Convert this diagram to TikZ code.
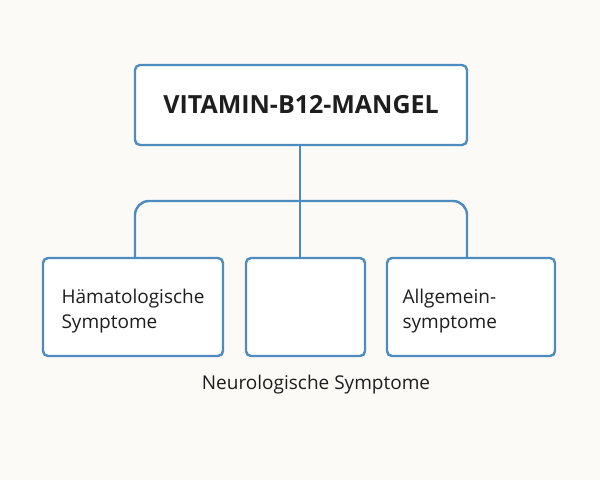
\documentclass[tikz,border=0pt]{standalone}
\usepackage{fontspec}
\setmainfont{Open Sans}
\usetikzlibrary{positioning}
\definecolor{boxblue}{RGB}{78, 140, 192}
\definecolor{paper}{RGB}{251, 250, 246}
\definecolor{ink}{RGB}{30, 30, 30}
\tikzset{
  box/.style={draw=boxblue, line width=2.4pt, rounded corners=5pt, fill=white, inner sep=0pt},
  label/.style={text=ink, font=\fontsize{19}{25}\selectfont, align=left},
  link/.style={draw=boxblue, line width=2.4pt, rounded corners=14pt}
}
\begin{document}
\begin{tikzpicture}[x=1pt, y=-1pt]
  \fill[paper] (0,0) rectangle (600,480);
  \useasboundingbox (0,0) rectangle (600,480);
  % main box
  \node[box, minimum width=332pt, minimum height=80pt] (main) at (301,105)
       {\fontsize{25}{30}\selectfont\bfseries\color{ink}VITAMIN-B12-MANGEL};
  % lower boxes
  \node[box, minimum width=180pt, minimum height=98pt] (haem) at (133,307) {};
  \node[box, minimum width=119pt, minimum height=98pt] (neuro) at (305.5,307) {};
  \node[box, minimum width=168pt, minimum height=98pt] (allg) at (471,307) {};
  \node[label, anchor=west] (haemtxt) at (58,311) {Hämatologische\\Symptome};
  \node[label, anchor=west] (allgtxt) at (399,311) {Allgemein-\\symptome};
  \node[label, anchor=center] (neurotxt) at (316,385) {Neurologische Symptome};
  % connectors
  \coordinate (split) at (main.south -| 300,0);
  \draw[link] (split) -- (300,258);
  \draw[link] (135,258) -- (135,201) -- (467,201) -- (467,258);
\end{tikzpicture}
\end{document}
